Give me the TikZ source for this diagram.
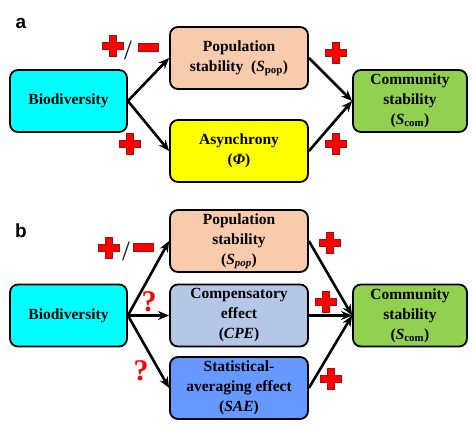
\documentclass[tikz,border=0pt]{standalone}
\usepackage{fontspec}
\setmainfont{Liberation Serif}
\newfontfamily\labelfont{Liberation Sans}
\usetikzlibrary{arrows.meta,positioning}
\definecolor{biocyan}{HTML}{00FFFF}
\definecolor{poppeach}{HTML}{F8CBAD}
\definecolor{asyyellow}{HTML}{FFFF00}
\definecolor{comgreen}{HTML}{92D050}
\definecolor{cpeblue}{HTML}{B4C7E7}
\definecolor{saeblue}{HTML}{6699FF}
\definecolor{plusred}{HTML}{FF0000}
\definecolor{plusedge}{HTML}{A01010}

\begin{document}
\begin{tikzpicture}[x=1pt,y=-1pt,
  bx/.style={draw=black,line width=1.8pt,rounded corners=8pt,align=center,
             font=\fontsize{15.5}{20}\selectfont\bfseries,inner sep=0pt,
             minimum height=62pt},
  ar/.style={-{Stealth[length=11pt,width=9pt]},line width=2.6pt},
  panel/.style={font=\fontsize{19}{22}\selectfont\labelfont\bfseries},
  qm/.style={text=plusred,font=\fontsize{30}{30}\selectfont\bfseries},
  sl/.style={font=\fontsize{28}{28}\selectfont,text=black!90},
  redplus/.pic={\draw[draw=plusedge,fill=plusred,line width=0.6pt]
    (-3.6,-10.5)--(3.6,-10.5)--(3.6,-3.6)--(10.5,-3.6)--(10.5,3.6)--(3.6,3.6)
    --(3.6,10.5)--(-3.6,10.5)--(-3.6,3.6)--(-10.5,3.6)--(-10.5,-3.6)--(-3.6,-3.6)--cycle;},
  redminus/.pic={\draw[draw=plusedge,fill=plusred,line width=0.6pt]
    (-10,-4.2) rectangle (10,4.2);}
]
\useasboundingbox (0,0) rectangle (473,430);

% panel a
\node[panel] (labA) at (21,23) {a};
\node[bx,fill=biocyan,minimum width=117pt] (bioA) at (68.5,101) {Biodiversity};
\node[bx,fill=poppeach,minimum width=138pt] (popA) at (239,58)
  {Population\\stability~~(\textit{S}\textsubscript{pop})};
\node[bx,fill=asyyellow,minimum width=138pt] (asyA) at (239,151)
  {Asynchrony\\(\textit{Φ})};
\node[bx,fill=comgreen,minimum width=114pt] (comA) at (410,101)
  {Community\\stability\\(\textit{S}\textsubscript{com})};

\draw[ar] (bioA.east) -- (popA.west);
\draw[ar] (bioA.east) -- (asyA.west);
\draw[ar] (popA.east) -- (comA.west);
\draw[ar] (asyA.east) -- (comA.west);

\pic at (113,46) {redplus};
\node[sl] (slA) at (128,50) {/};
\pic at (148,47.5) {redminus};
\pic at (130,144) {redplus};
\pic at (336,53) {redplus};
\pic at (336,144) {redplus};

% panel b
\node[panel] (labB) at (21,231) {b};
\node[bx,fill=biocyan,minimum width=117pt] (bioB) at (68.5,315.5) {Biodiversity};
\node[bx,fill=poppeach,minimum width=138pt] (popB) at (239,241)
  {Population\\stability\\(\textit{S\textsubscript{pop}})};
\node[bx,fill=cpeblue,minimum width=138pt] (cpeB) at (239,315.5)
  {Compensatory\\effect\\(\textit{CPE})};
\node[bx,fill=saeblue,minimum width=138pt] (saeB) at (239,388)
  {Statistical-\\averaging effect\\(\textit{SAE})};
\node[bx,fill=comgreen,minimum width=114pt] (comB) at (410,315.5)
  {Community\\stability\\(\textit{S}\textsubscript{com})};

\draw[ar] (bioB.east) -- (popB.west);
\draw[ar] (bioB.east) -- (cpeB.west);
\draw[ar] (bioB.east) -- (saeB.west);
\draw[ar] (popB.east) -- (comB.west);
\draw[ar] (cpeB.east) -- (comB.west);
\draw[ar] (saeB.east) -- (comB.west);

\pic at (109,248) {redplus};
\node[sl] (slB) at (126,251) {/};
\pic at (143,247.5) {redminus};
\node[qm] (qmCpe) at (149,302) {?};
\node[qm] (qmSae) at (141,371) {?};
\pic at (330,243) {redplus};
\pic at (326,302) {redplus};
\pic at (331,379) {redplus};
\end{tikzpicture}
\end{document}
